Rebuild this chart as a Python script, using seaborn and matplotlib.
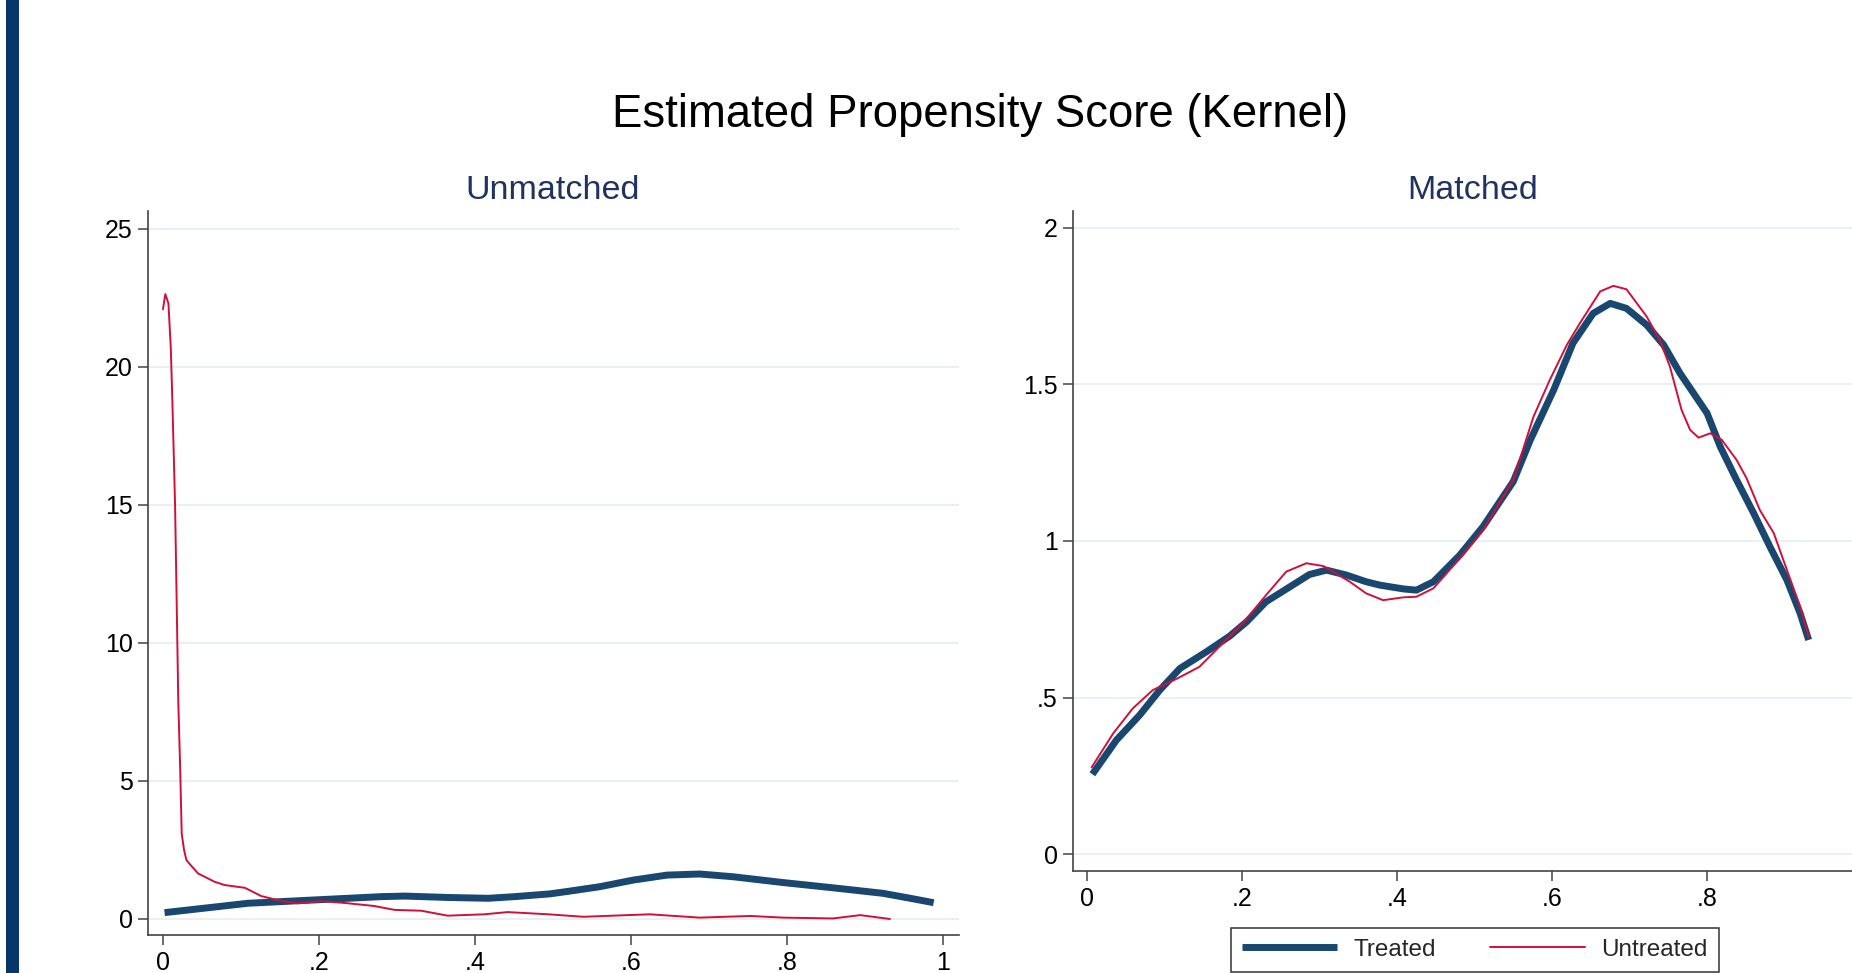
import matplotlib
matplotlib.use("Agg")
import matplotlib.pyplot as plt
from matplotlib.patches import Rectangle
import pandas as pd
import seaborn as sns

# --- values ---
unm_treated_x = [0.002, 0.109, 0.194, 0.280, 0.310, 0.365, 0.417, 0.451, 0.496, 0.519,
                 0.560, 0.603, 0.646, 0.688, 0.731, 0.795, 0.859, 0.923, 0.958, 0.988]
unm_treated_y = [0.23, 0.57, 0.69, 0.81, 0.83, 0.78, 0.75, 0.81, 0.91, 1.00,
                 1.17, 1.41, 1.59, 1.63, 1.53, 1.32, 1.13, 0.93, 0.75, 0.59]

unm_untreated_x = [0.000, 0.003, 0.007, 0.010, 0.012, 0.0155, 0.0175, 0.0196, 0.022, 0.024,
                   0.027, 0.030, 0.034, 0.045, 0.066, 0.079, 0.105, 0.126, 0.152, 0.173,
                   0.203, 0.237, 0.271, 0.297, 0.331, 0.365, 0.412, 0.442, 0.494, 0.539,
                   0.624, 0.688, 0.753, 0.795, 0.859, 0.894, 0.932]
unm_untreated_y = [22.09, 22.64, 22.30, 20.70, 18.80, 15.00, 11.60, 7.90, 5.50, 3.10,
                   2.50, 2.14, 2.00, 1.65, 1.35, 1.23, 1.13, 0.83, 0.65, 0.57,
                   0.65, 0.57, 0.47, 0.33, 0.30, 0.12, 0.17, 0.25, 0.17, 0.08,
                   0.17, 0.05, 0.11, 0.05, 0.02, 0.14, 0.00]

mat_treated_x = [0.007, 0.038, 0.068, 0.094, 0.120, 0.154, 0.184, 0.206, 0.231, 0.262,
                 0.287, 0.309, 0.335, 0.360, 0.378, 0.408, 0.425, 0.447, 0.481, 0.511,
                 0.550, 0.572, 0.602, 0.627, 0.653, 0.675, 0.696, 0.722, 0.744, 0.765,
                 0.800, 0.817, 0.838, 0.860, 0.881, 0.903, 0.920, 0.931]
mat_treated_y = [0.255, 0.364, 0.444, 0.524, 0.593, 0.646, 0.696, 0.742, 0.806, 0.854,
                 0.893, 0.907, 0.891, 0.870, 0.859, 0.847, 0.843, 0.870, 0.955, 1.046,
                 1.190, 1.323, 1.482, 1.632, 1.727, 1.759, 1.743, 1.690, 1.626, 1.536,
                 1.408, 1.301, 1.195, 1.089, 0.982, 0.875, 0.769, 0.684]

mat_untreated_x = [0.006, 0.034, 0.059, 0.085, 0.115, 0.145, 0.175, 0.201, 0.231, 0.257,
                   0.283, 0.305, 0.339, 0.360, 0.382, 0.408, 0.425, 0.447, 0.481, 0.511,
                   0.550, 0.576, 0.597, 0.619, 0.636, 0.662, 0.679, 0.696, 0.722, 0.739,
                   0.752, 0.767, 0.778, 0.789, 0.804, 0.819, 0.838, 0.851, 0.868, 0.886,
                   0.903, 0.920, 0.931]
mat_untreated_y = [0.277, 0.386, 0.465, 0.524, 0.559, 0.598, 0.673, 0.737, 0.827, 0.902,
                   0.929, 0.920, 0.870, 0.833, 0.811, 0.820, 0.822, 0.849, 0.945, 1.035,
                   1.195, 1.397, 1.514, 1.626, 1.696, 1.797, 1.815, 1.804, 1.717, 1.642,
                   1.557, 1.419, 1.355, 1.330, 1.344, 1.323, 1.259, 1.200, 1.099, 1.025,
                   0.907, 0.790, 0.694]

unm_x_ticks = [0, 0.2, 0.4, 0.6, 0.8, 1]
unm_x_ticklabels = ["0", ".2", ".4", ".6", ".8", "1"]
mat_x_ticks = [0, 0.2, 0.4, 0.6, 0.8]
mat_x_ticklabels = ["0", ".2", ".4", ".6", ".8"]
unm_y_ticks = [0, 5, 10, 15, 20, 25]
unm_y_ticklabels = ["0", "5", "10", "15", "20", "25"]
mat_y_ticks = [0, 0.5, 1, 1.5, 2]
mat_y_ticklabels = ["0", ".5", "1", "1.5", "2"]

BLUE = "#1a476f"
RED = "#d0103a"
GRID = "#e9f0f2"
AXCOL = "#444444"
SUBCOL = "#1f3260"
W, H = 1852, 973

sns.set_theme(style="white")
plt.rcParams['font.family'] = ['Liberation Sans', 'DejaVu Sans']

fig = plt.figure(figsize=(W / 100, H / 100), dpi=100)
ax1 = fig.add_axes([148 / W, 1 - 935 / H, 811 / W, 724 / H])
ax2 = fig.add_axes([1073 / W, 1 - 871 / H, 800 / W, 660 / H])

unm_t = pd.DataFrame({"x": unm_treated_x, "y": unm_treated_y})
unm_u = pd.DataFrame({"x": unm_untreated_x, "y": unm_untreated_y})
mat_t = pd.DataFrame({"x": mat_treated_x, "y": mat_treated_y})
mat_u = pd.DataFrame({"x": mat_untreated_x, "y": mat_untreated_y})

sns.lineplot(data=unm_t, x="x", y="y", ax=ax1, color=BLUE, lw=5, estimator=None,
             solid_capstyle="butt", legend=False)
sns.lineplot(data=unm_u, x="x", y="y", ax=ax1, color=RED, lw=1.4, estimator=None,
             legend=False)
sns.lineplot(data=mat_t, x="x", y="y", ax=ax2, color=BLUE, lw=5, estimator=None,
             solid_capstyle="butt", label="Treated")
sns.lineplot(data=mat_u, x="x", y="y", ax=ax2, color=RED, lw=1.4, estimator=None,
             label="Untreated")


def style_panel(ax, xlim, ylim, xticks, xticklabels, yticks, yticklabels):
    ax.set_xlim(xlim)
    ax.set_ylim(ylim)
    ax.set_xticks(xticks, xticklabels)
    ax.set_yticks(yticks, yticklabels)
    ax.set_xlabel("")
    ax.set_ylabel("")
    ax.grid(axis="y", color=GRID, lw=1.4)
    ax.grid(axis="x", visible=False)
    ax.set_axisbelow(True)
    for s in ["top", "right"]:
        ax.spines[s].set_visible(False)
    for s in ["left", "bottom"]:
        ax.spines[s].set_color(AXCOL)
        ax.spines[s].set_linewidth(1.2)
    ax.tick_params(axis="both", direction="out", length=7.5, width=1.1, color=AXCOL,
                   labelsize=18, labelcolor="black", left=True, bottom=True)
    ax.tick_params(axis="x", pad=4)
    ax.tick_params(axis="y", pad=3.5)


style_panel(ax1, (-0.0192, 1.0205), (-0.58, 25.65),
            unm_x_ticks, unm_x_ticklabels, unm_y_ticks, unm_y_ticklabels)
style_panel(ax2, (-0.018, 1.014), (-0.054, 2.054),
            mat_x_ticks, mat_x_ticklabels, mat_y_ticks, mat_y_ticklabels)

# titles
fig.text(980 / W, 1 - 127 / H, "Estimated Propensity Score (Kernel)", ha="center",
         va="baseline", fontsize=32.8, color="black")
fig.text(553 / W, 1 - 199 / H, "Unmatched", ha="center", va="baseline",
         fontsize=24.5, color=SUBCOL)
fig.text(1473 / W, 1 - 199 / H, "Matched", ha="center", va="baseline",
         fontsize=24.5, color=SUBCOL)

# legend below the right panel
handles, labels = ax2.get_legend_handles_labels()
ax2.get_legend().remove()
leg = fig.legend(handles, labels, loc="upper left", bbox_to_anchor=(1231 / W, 1 - 928 / H),
                 ncol=2, frameon=True, fancybox=False, edgecolor="#333333",
                 fontsize=17.5, handlelength=3.9, handletextpad=0.7, columnspacing=2.2,
                 borderpad=0.45, borderaxespad=0)
leg.get_frame().set_linewidth(1.1)
leg.get_frame().set_alpha(1)

# slide accent bar on the left edge
fig.add_artist(Rectangle((6 / W, 0), 13 / W, 1, transform=fig.transFigure,
                         color="#07366a", lw=0))

fig.savefig("out.png", dpi=100)
